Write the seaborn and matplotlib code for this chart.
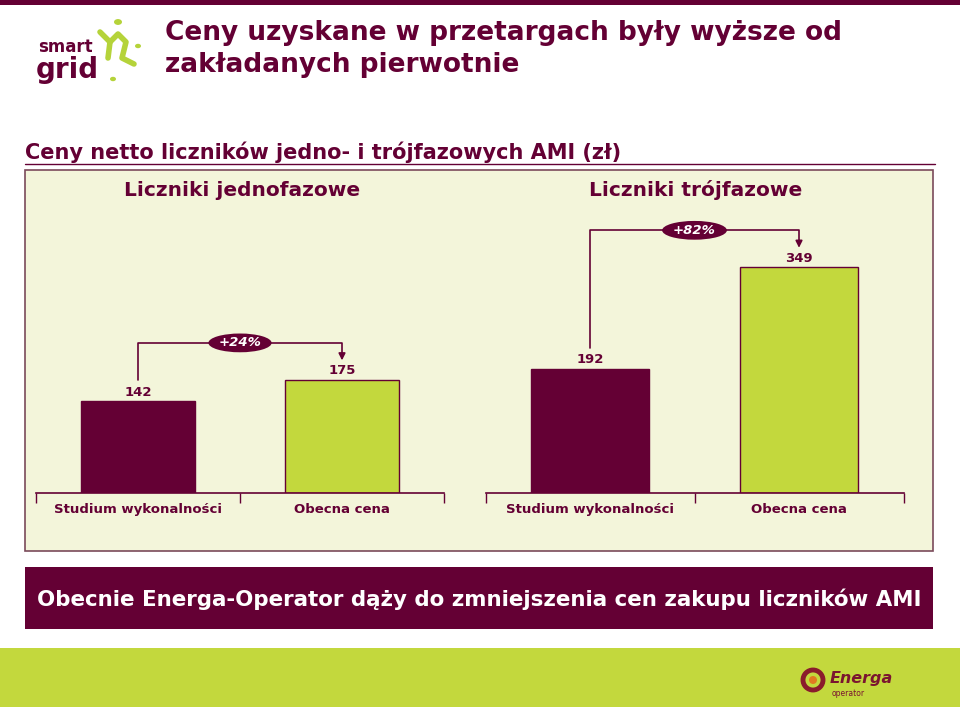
import matplotlib
matplotlib.use("Agg")
import matplotlib.pyplot as plt
import seaborn as sns
import pandas as pd
from matplotlib.patches import Rectangle, Ellipse, Circle
from matplotlib.lines import Line2D

sns.set_theme(style="white")
plt.rcParams['font.family'] = ['DejaVu Sans']

# ---- data ----
categories = ["Studium wykonalności", "Obecna cena"]
panel_titles = ["Liczniki jednofazowe", "Liczniki trójfazowe"]
single_phase = [142, 175]
three_phase = [192, 349]
pct_labels = ["+24%", "+82%"]

title = "Ceny uzyskane w przetargach były wyższe od\nzakładanych pierwotnie"
subtitle = "Ceny netto liczników jedno- i trójfazowych AMI (zł)"
banner = "Obecnie Energa-Operator dąży do zmniejszenia cen zakupu liczników AMI"

MAROON = "#640034"
GREEN = "#c3d83d"
PANEL = "#f3f5da"
W, H = 960, 707

fig = plt.figure(figsize=(W / 100, H / 100), dpi=100)
fig.patch.set_facecolor("white")


def fx(x):
    return x / W


def fy(y):
    return 1 - y / H


def frect(x0, y0, x1, y1, **kw):
    fig.patches.append(Rectangle((fx(x0), fy(y1)), fx(x1) - fx(x0), fy(y0) - fy(y1),
                                 transform=fig.transFigure, **kw))


# top strip
frect(0, 0, W, 5, facecolor=MAROON, edgecolor="none", zorder=-5)

# smart grid logo (approximation)
fig.text(fx(38), fy(47), "smart", color=MAROON, fontsize=12, fontweight="bold", va="center", ha="left")
fig.text(fx(36), fy(70), "grid", color=MAROON, fontsize=20, fontweight="bold", va="center", ha="left")
for (cx, cy, r) in [(118, 22, 4), (138, 46, 3), (113, 79, 3)]:
    fig.patches.append(Circle((fx(cx), fy(cy)), r / W, transform=fig.transFigure,
                              facecolor="#b5d33a", edgecolor="none"))
fig.lines.append(Line2D([fx(100), fx(110), fx(118), fx(126), fx(122), fx(134)],
                        [fy(32), fy(42), fy(34), fy(42), fy(58), fy(64)],
                        transform=fig.transFigure, color="#b5d33a", lw=4, solid_capstyle="round"))
fig.lines.append(Line2D([fx(110), fx(108)], [fy(42), fy(58)],
                        transform=fig.transFigure, color="#b5d33a", lw=4, solid_capstyle="round"))

# title
fig.text(fx(165), fy(49), title, color=MAROON, fontsize=19, fontweight="bold",
         va="center", ha="left", linespacing=1.3)

# subtitle + rule
fig.text(fx(25), fy(152), subtitle, color=MAROON, fontsize=15, fontweight="bold",
         va="center", ha="left")
fig.lines.append(Line2D([fx(25), fx(935)], [fy(164), fy(164)], transform=fig.transFigure,
                        color=MAROON, lw=1))

# panel box (behind axes)
frect(25, 170, 933, 551, facecolor=PANEL, edgecolor="#7a4a5a", lw=1.2, zorder=-10)

# panel titles
fig.text(fx(242), fy(190), panel_titles[0], color=MAROON, fontsize=14.5, fontweight="bold",
         va="center", ha="center")
fig.text(fx(696), fy(190), panel_titles[1], color=MAROON, fontsize=14.5, fontweight="bold",
         va="center", ha="center")

# axes
base_y, top_y = 493, 200
ymax = (base_y - top_y) / 0.647
ax_specs = [(36, 444, single_phase), (485.5, 903.5, three_phase)]
for i, (x0, x1, vals) in enumerate(ax_specs):
    ax = fig.add_axes([fx(x0), fy(base_y), fx(x1) - fx(x0), fy(top_y) - fy(base_y)])
    ax.patch.set_alpha(0)
    df = pd.DataFrame({"cat": categories, "val": vals})
    sns.barplot(data=df, x="cat", y="val", hue="cat", palette=[MAROON, GREEN],
                saturation=1, width=0.56, legend=False, ax=ax,
                edgecolor=MAROON, linewidth=1)
    ax.set_xlim(-0.5, 1.5)
    ax.set_ylim(0, ymax)
    for s in ["top", "right", "left"]:
        ax.spines[s].set_visible(False)
    ax.spines["bottom"].set_color(MAROON)
    ax.spines["bottom"].set_linewidth(1.2)
    ax.set_yticks([])
    ax.set_xlabel("")
    ax.set_ylabel("")
    ax.set_xticks([0, 1])
    ax.set_xticklabels(categories, fontsize=9.5, fontweight="bold", color=MAROON)
    ax.tick_params(axis="x", which="major", length=0, pad=7)
    ax.set_xticks([-0.5, 0.5, 1.5], minor=True)
    ax.tick_params(axis="x", which="minor", bottom=True, length=7, width=1,
                   color=MAROON, direction="out")
    # value labels
    for j, v in enumerate(vals):
        ax.text(j, v + 14, str(v), ha="center", va="center", fontsize=9.5,
                fontweight="bold", color=MAROON)
    # connector
    level = max(vals) + 57
    ax.plot([0, 0, 1, 1], [vals[0] + 32, level, level, vals[1] + 38],
            color=MAROON, lw=1.2, clip_on=False)
    ax.annotate("", xy=(1, vals[1] + 30), xytext=(1, vals[1] + 40),
                arrowprops=dict(arrowstyle="-|>", color=MAROON, lw=1.2,
                                mutation_scale=10, shrinkA=0, shrinkB=0))
    ax.add_patch(Ellipse((0.5, level), 0.31, 29, facecolor=MAROON, edgecolor="none",
                         zorder=5, clip_on=False))
    ax.text(0.5, level, pct_labels[i], ha="center", va="center", color="white",
            fontsize=9.5, fontweight="bold", fontstyle="italic", zorder=6)

# banner
frect(25, 567, 933, 629, facecolor=MAROON, edgecolor="none", zorder=-5)
fig.text(fx(479), fy(599), banner, color="white", fontsize=15.4, fontweight="bold",
         va="center", ha="center")

# footer
frect(0, 648, W, H, facecolor=GREEN, edgecolor="none", zorder=-5)
fig.patches.append(Ellipse((fx(813), fy(680)), 20 / W, 20 / H, transform=fig.transFigure,
                           facecolor="none", edgecolor="#8a1c2c", lw=3.5))
fig.patches.append(Ellipse((fx(813), fy(680)), 8 / W, 8 / H, transform=fig.transFigure,
                           facecolor="#e07a20", edgecolor="none"))
fig.text(fx(830), fy(679), "Energa", color="#7a1530", fontsize=11.5, fontweight="bold",
         fontstyle="italic", va="center", ha="left")
fig.text(fx(832), fy(694), "operator", color="#7a1530", fontsize=5.5, va="center", ha="left")

fig.savefig("out.png", dpi=100, facecolor="white")
